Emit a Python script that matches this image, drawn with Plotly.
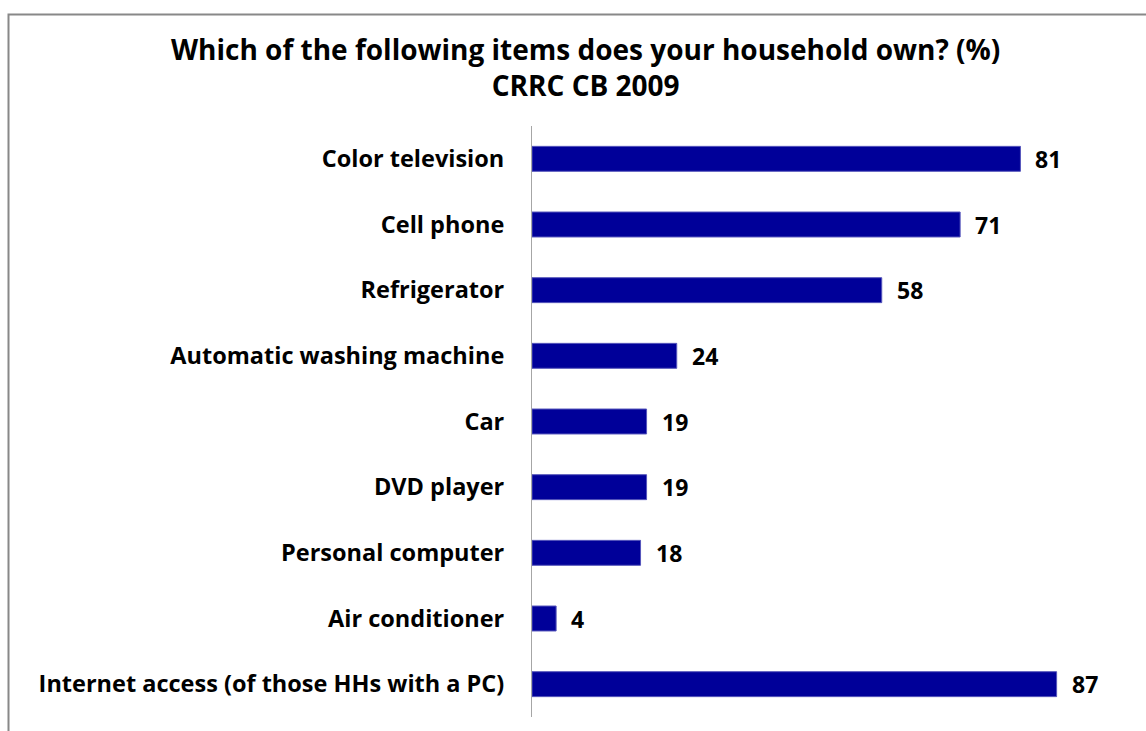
import plotly.graph_objects as go

categories = [
    "Color television",
    "Cell phone",
    "Refrigerator",
    "Automatic washing machine",
    "Car",
    "DVD player",
    "Personal computer",
    "Air conditioner",
    "Internet access (of those HHs with a PC)",
]
values = [81, 71, 58, 24, 19, 19, 18, 4, 87]

title_lines = ["Which of the following items does your household own? (%)", "CRRC CB 2009"]

FONT = "Open Sans"
PLOT_LEFT, PLOT_RIGHT = 532, 1135
PLOT_W = PLOT_RIGHT - PLOT_LEFT
PLOT_TOP, PLOT_BOTTOM = 126, 717
PLOT_H = PLOT_BOTTOM - PLOT_TOP

fig = go.Figure()
fig.add_trace(go.Bar(
    x=values,
    y=categories,
    orientation="h",
    marker=dict(color="#000099", line=dict(color="#5555bb", width=1)),
    width=0.38,
    hoverinfo="skip",
))

for c, v in zip(categories, values):
    fig.add_annotation(
        x=v, y=c, xref="x", yref="y",
        text=f"<b>{v}</b>", showarrow=False,
        xanchor="left", xshift=13,
        font=dict(family=FONT, size=23, color="#000000"),
    )

fig.add_annotation(
    x=(585 - PLOT_LEFT) / PLOT_W, y=1 + (PLOT_TOP - 67.5) / PLOT_H,
    xref="paper", yref="paper", showarrow=False,
    xanchor="center", yanchor="middle", align="center",
    text="<b>" + title_lines[0] + "<br>" + title_lines[1] + "</b>",
    font=dict(family=FONT, size=28, color="#000000"),
)

fig.add_shape(type="rect", xref="paper", yref="paper",
              x0=-(PLOT_LEFT - 8.5) / PLOT_W, x1=1.5, y0=-0.5,
              y1=1 + (PLOT_TOP - 14.5) / PLOT_H,
              line=dict(color="#888888", width=2), layer="below")

fig.update_layout(
    width=1146, height=731,
    margin=dict(l=PLOT_LEFT, r=1146 - PLOT_RIGHT, t=PLOT_TOP, b=731 - PLOT_BOTTOM),
    paper_bgcolor="white", plot_bgcolor="white",
    showlegend=False,
    xaxis=dict(range=[0, 100], visible=False, fixedrange=True),
    yaxis=dict(
        autorange="reversed",
        showline=True, linecolor="#a6a6a6", linewidth=1,
        ticks="", showgrid=False, zeroline=False,
        tickfont=dict(family=FONT, size=23.5, color="#000000"),
        ticklabelstandoff=22,
        tickprefix="<b>", ticksuffix="</b>",
    ),
)

fig.write_html("out.html")
